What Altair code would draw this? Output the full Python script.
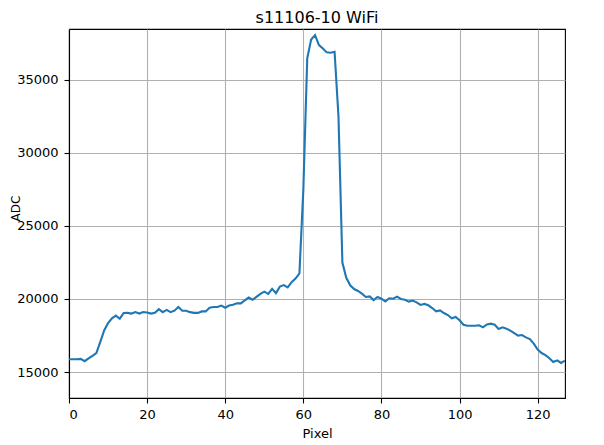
import altair as alt
import pandas as pd

pixels = list(range(128))
adc = [
    15870, 15870, 15870, 15900, 15740, 15930, 16110, 16300, 17050, 17850,
    18350, 18680, 18860, 18650, 19040, 19050, 19000, 19100, 19000, 19100,
    19080, 19000, 19050, 19300, 19100, 19250, 19100, 19200, 19450, 19200,
    19200, 19100, 19050, 19050, 19150, 19150, 19400, 19450, 19450, 19550,
    19400, 19550, 19600, 19700, 19700, 19900, 20100, 19950, 20150, 20350,
    20500, 20350, 20700, 20400, 20850, 20950, 20800, 21150, 21400, 21750,
    27500, 36480, 37770, 38070, 37390, 37160, 36890, 36860, 36930, 32500,
    22500, 21450, 20940, 20680, 20550, 20370, 20140, 20180, 19930, 20140,
    20020, 19840, 20050, 20020, 20160, 20000, 19950, 19820, 19890, 19770,
    19590, 19660, 19570, 19380, 19160, 19220, 19040, 18900, 18680, 18770,
    18540, 18240, 18170, 18170, 18170, 18200, 18060, 18260, 18310, 18240,
    17950, 18060, 17970, 17830, 17670, 17490, 17530, 17370, 17260, 16940,
    16530, 16300, 16160, 15940, 15680, 15800, 15620, 15780,
]
x_ticks = [0, 20, 40, 60, 80, 100, 120]
y_ticks = [15000, 20000, 25000, 30000, 35000]

df = pd.DataFrame({"Pixel": pixels, "ADC": adc})

font = "DejaVu Sans"

chart = (
    alt.Chart(df)
    .mark_line(color="#1f77b4", strokeWidth=2.1, clip=True)
    .encode(
        x=alt.X(
            "Pixel:Q",
            scale=alt.Scale(domain=[0, 127], nice=False, zero=False),
            axis=alt.Axis(
                values=x_ticks,
                title="Pixel",
                titleY=39,
                titleBaseline="alphabetic",
                labelPadding=5,
                format="d",
            ),
        ),
        y=alt.Y(
            "ADC:Q",
            scale=alt.Scale(domain=[13220, 38490], nice=False, zero=False),
            axis=alt.Axis(
                values=y_ticks,
                title="ADC",
                titleX=-50,
                titleY=179,
                titleFontSize=12,
                titleBaseline="alphabetic",
                labelPadding=6,
                format="d",
            ),
        ),
    )
    .properties(
        width=496,
        height=369,
        title=alt.TitleParams(
            "s11106-10 WiFi",
            fontSize=16,
            font=font,
            fontWeight="normal",
            color="black",
            anchor="middle",
            offset=3,
        ),
        autosize=alt.AutoSizeParams(type="none"),
        padding={"left": 61, "top": 21, "right": 31, "bottom": 46},
    )
    .configure_view(stroke="black", strokeWidth=1.1)
    .configure_axis(
        grid=True,
        gridColor="#b0b0b0",
        gridWidth=1.1,
        domainColor="black",
        domainWidth=1.1,
        tickColor="black",
        tickSize=5,
        tickWidth=1.1,
        labelFont=font,
        labelFontSize=13,
        labelColor="black",
        titleFont=font,
        titleFontSize=13,
        titleFontWeight="normal",
        titleColor="black",
    )
)

chart.save("out.html", embed_options={"renderer": "svg", "actions": False})
